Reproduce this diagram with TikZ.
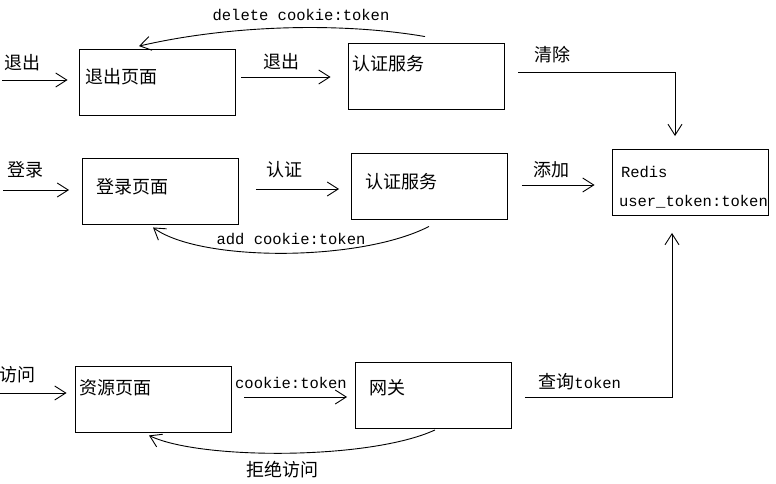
\documentclass[tikz,border=0pt]{standalone}
\usepackage{fontspec}
\setmainfont{Liberation Mono}
\newfontfamily\cjk{Noto Sans CJK SC}
\usetikzlibrary{arrows.meta}

\begin{document}
\begin{tikzpicture}[x=1pt, y=-1pt, line width=0.9pt,
    font=\fontsize{15.5}{18}\selectfont,
    box/.style={draw, minimum width=156pt, minimum height=66pt, inner sep=0pt},
    zh/.style={font=\cjk\fontsize{18}{20}\selectfont, inner sep=0pt},
    tt/.style={inner sep=0pt},
    arr/.style={-{Straight Barb[length=11pt, width=14pt]}}]
    \useasboundingbox (0,0) rectangle (776,484);

    % 方框
    \node[box] (logoutPage) at (157,82) {};
    \node[box] (authTop) at (426,76) {};
    \node[box] (loginPage) at (160.5,191) {};
    \node[box] (authMid) at (429.5,186) {};
    \node[box] (redis) at (690,182.5) {};
    \node[box] (resPage) at (153,399) {};
    \node[box] (gateway) at (433.5,395.5) {};

    % 方框里的文字
    \node[zh, anchor=west] (logoutText) at ([xshift=6pt, yshift=5pt]logoutPage.west) {退出页面};
    \node[zh, anchor=west] (authTopText) at ([xshift=4pt, yshift=12pt]authTop.west) {认证服务};
    \node[zh, anchor=west] (loginText) at ([xshift=14pt, yshift=4pt]loginPage.west) {登录页面};
    \node[zh, anchor=west] (authMidText) at ([xshift=14pt, yshift=4pt]authMid.west) {认证服务};
    \node[tt, anchor=west] (redisText) at ([xshift=9pt, yshift=10.5pt]redis.west) {Redis};
    \node[tt, anchor=west] (redisKey) at ([xshift=7pt, yshift=-19.5pt]redis.west) {user\_token:token};
    \node[zh, anchor=west] (resText) at ([xshift=4pt, yshift=11pt]resPage.west) {资源页面};
    \node[zh, anchor=west] (gatewayText) at ([xshift=14pt, yshift=7.5pt]gateway.west) {网关};

    % 入口
    \coordinate (inLogout) at (2,80);
    \coordinate (inLogin) at (3,190);
    \coordinate (inVisit) at (0,393);

    % 连线
    \draw[arr, shorten >=11pt] (inLogout) -- (inLogout -| logoutPage.west);
    \draw[arr, shorten <=6pt, shorten >=17pt] ([yshift=5pt]logoutPage.east) -- ([yshift=-1pt]authTop.west);
    \draw[arr, shorten >=13pt] ([xshift=14pt, yshift=4pt]authTop.east) -| ([xshift=-15pt]redis.north);
    \draw[arr, shorten >=2pt] ([xshift=-1pt, yshift=6pt]authTop.north)
        .. controls (340,22) and (230,25) .. ([xshift=-20pt, yshift=2pt]logoutPage.north);

    \draw[arr, shorten >=13pt] (inLogin) -- (inLogin -| loginPage.west);
    \draw[arr, shorten <=17pt, shorten >=12pt] ([yshift=2pt]loginPage.east) -- ([yshift=-3pt]authMid.west);
    \draw[arr, shorten <=14pt, shorten >=17pt] ([yshift=1pt]authMid.east) -- ([yshift=-2.5pt]redis.west);
    \draw[arr] ([xshift=-0.5pt, yshift=-7pt]authMid.south)
        .. controls (360,262) and (200,262) .. ([xshift=-7.5pt, yshift=-3pt]loginPage.south);

    \draw[arr, shorten >=8pt] (inVisit) -- (inVisit -| resPage.west);
    \draw[arr, shorten <=13pt, shorten >=8pt] ([yshift=2pt]resPage.east) -- ([yshift=-1.5pt]gateway.west);
    \draw[arr, shorten >=17pt] ([xshift=13pt, yshift=-1.5pt]gateway.east) -| ([xshift=-18pt]redis.south);
    \draw[arr] ([xshift=1.5pt, yshift=-1pt]gateway.south)
        .. controls (370,460) and (200,460) .. ([xshift=-4pt, yshift=-3pt]resPage.south);

    % 连线上的文字
    \node[zh, anchor=west] (lblLogoutIn) at (4,63) {退出};
    \node[zh] (lblLogout) at (281,62) {退出};
    \node[tt] (lblDelete) at (301,15) {delete cookie:token};
    \node[zh] (lblClear) at (552,55) {清除};
    \node[zh] (lblLoginIn) at (25,170) {登录};
    \node[zh] (lblAuth) at (284,170) {认证};
    \node[zh] (lblAdd) at (551,170) {添加};
    \node[tt] (lblAddCookie) at (291,239) {add cookie:token};
    \node[zh] (lblVisit) at (17,375) {访问};
    \node[tt] (lblCookie) at (291,383) {cookie:token};
    \node[tt, anchor=west] (lblQuery) at (538,382) {{\cjk\fontsize{18}{20}\selectfont 查询}token};
    \node[zh] (lblReject) at (282,470) {拒绝访问};
\end{tikzpicture}
\end{document}
